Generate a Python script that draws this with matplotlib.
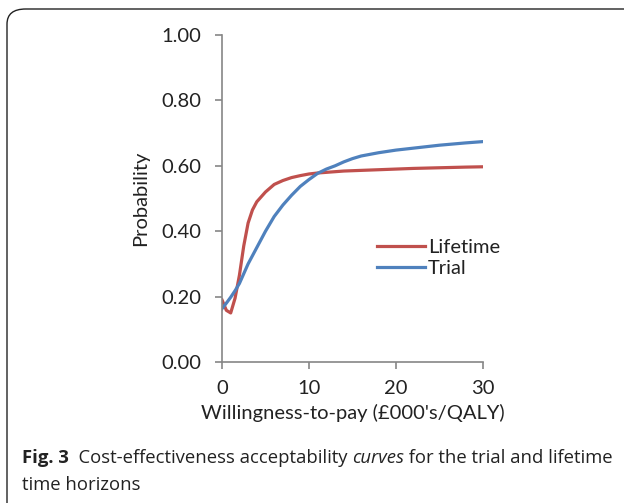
import matplotlib.pyplot as plt
from matplotlib.patches import FancyBboxPatch

# willingness-to-pay (£000's/QALY)
wtp = [0, 0.5, 1, 1.5, 2, 2.5, 3, 3.5, 4, 5, 6, 7, 8, 9, 10, 11, 12, 13, 14,
       15, 16, 18, 20, 22, 25, 28, 30]
lifetime = [0.19, 0.158, 0.15, 0.195, 0.265, 0.355, 0.425, 0.465, 0.49, 0.52,
            0.543, 0.555, 0.564, 0.57, 0.575, 0.578, 0.58, 0.582, 0.584, 0.585,
            0.586, 0.588, 0.59, 0.592, 0.594, 0.596, 0.597]
trial = [0.163, 0.18, 0.198, 0.218, 0.24, 0.27, 0.30, 0.325, 0.35, 0.40, 0.445,
         0.48, 0.51, 0.537, 0.558, 0.577, 0.59, 0.60, 0.612, 0.622, 0.63, 0.64,
         0.648, 0.654, 0.663, 0.67, 0.674]
x_ticks = [0, 10, 20, 30]
y_ticks = [0.0, 0.2, 0.4, 0.6, 0.8, 1.0]

FS = 14.5

fig = plt.figure(figsize=(6.24, 5.03), dpi=100)

# rounded frame around the figure (right and bottom edges run off the image)
frame = FancyBboxPatch((7 / 624, -0.1), 1.2, (503 - 9) / 503 + 0.1,
                       boxstyle='round,pad=0,rounding_size=0.03',
                       transform=fig.transFigure, fill=False,
                       edgecolor='#222222', linewidth=1.0)
fig.patches.append(frame)

ax = fig.add_axes([222 / 624, 1 - 362 / 503, 261 / 624, 327 / 503])
ax.plot(wtp, lifetime, color='#C0504D', linewidth=2.3, label='Lifetime')
ax.plot(wtp, trial, color='#4F81BD', linewidth=2.3, label='Trial')

ax.set_xlim(0, 30)
ax.set_ylim(0, 1.0)
ax.set_xticks(x_ticks)
ax.set_yticks(y_ticks)
ax.set_yticklabels([f'{v:.2f}' for v in y_ticks])
for s in ['top', 'right']:
    ax.spines[s].set_visible(False)
for s in ['left', 'bottom']:
    ax.spines[s].set_color('#868686')
    ax.spines[s].set_linewidth(1.2)
ax.tick_params(colors='#868686', labelcolor='#222222', labelsize=FS,
               length=5, width=1.2, direction='out')
for lab in ax.get_xticklabels() + ax.get_yticklabels():
    lab.set_family('Lato')
ax.tick_params(axis='y', pad=10)
ax.tick_params(axis='x', pad=8)
ax.set_ylabel('Probability', fontsize=FS, family='Lato', color='#222222', labelpad=9)
ax.set_xlabel("Willingness-to-pay (£000's/QALY)", fontsize=FS, family='Lato',
              color='#222222', labelpad=5)
ax.set_clip_on(False)

leg = ax.legend(loc='center', bbox_to_anchor=(0.83, 0.318), frameon=False,
                prop={'family': 'Lato', 'size': FS}, handlelength=2.4,
                handletextpad=0.15, labelspacing=0.2)
for t in leg.get_texts():
    t.set_color('#222222')

# caption with mixed styles, placed piece by piece
fig.canvas.draw()
renderer = fig.canvas.get_renderer()
pieces = [('Fig. 3', 'bold', 'normal'),
          ('  Cost-effectiveness acceptability ', 'normal', 'normal'),
          ('curves', 'normal', 'italic'),
          (' for the trial and lifetime', 'normal', 'normal')]
x = 22 / 624
y1 = 1 - 463 / 503
for txt, weight, style in pieces:
    t = fig.text(x, y1, txt, fontsize=13.3, family='Open Sans', weight=weight,
                 style=style, color='#222222', va='baseline')
    bb = t.get_window_extent(renderer)
    x = (bb.x1) / fig.bbox.width
fig.text(22 / 624, 1 - 490 / 503, 'time horizons', fontsize=13.3,
         family='Open Sans', color='#222222', va='baseline')

fig.savefig('out.png', dpi=100)
